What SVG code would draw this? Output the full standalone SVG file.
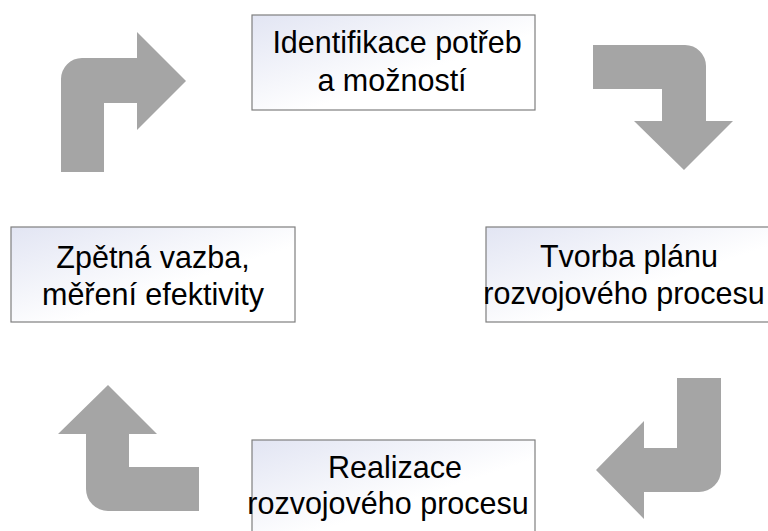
<svg xmlns="http://www.w3.org/2000/svg" width="768" height="531" viewBox="0 0 768 531">
<defs>
<linearGradient id="boxfill" x1="0" y1="0" x2="1" y2="1">
<stop offset="0" stop-color="#E2E5F3"/>
<stop offset="0.6" stop-color="#FFFFFF"/>
<stop offset="1" stop-color="#FFFFFF"/>
</linearGradient>
<style>
.box{fill:url(#boxfill);stroke:#7F7F7F;stroke-width:1.2}
.lbl{font-family:"Liberation Sans",Arial,sans-serif;font-size:30.5px;fill:#000;text-anchor:middle}
.arr{fill:#A5A5A5}
</style>
</defs>
<rect width="768" height="531" fill="#FFFFFF"/>
<g id="connectors">
<path class="arr" d="M61,172 L61,79 A21,21 0 0 1 82,58 L137,58 L137,32 L186,81 L137,130 L137,103 L104,103 L104,172 Z"/>
<path class="arr" d="M593,45 L685,45 A21,21 0 0 1 706,66 L706,121 L733,121 L684,170 L634,121 L662,121 L662,89 L593,89 Z"/>
<path class="arr" d="M677,378 L721,378 L721,470 A22,22 0 0 1 699,492 L644,492 L644,519 L596,470 L644,421 L644,448 L677,448 Z"/>
<path class="arr" d="M108,385 L157,434 L129,434 L129,467 L199,467 L199,511 L108,511 A22,22 0 0 1 86,489 L86,434 L58,434 Z"/>
</g>
<g id="node-identifikace">
<rect class="box" x="252" y="15" width="283" height="95"/>
<text class="lbl" x="397" y="53">Identifikace potřeb</text>
<text class="lbl" x="392" y="91">a možností</text>
</g>
<g id="node-tvorba">
<rect class="box" x="486" y="227" width="284" height="95"/>
<text class="lbl" x="629" y="267">Tvorba plánu</text>
<text class="lbl" x="624" y="304">rozvojového procesu</text>
</g>
<g id="node-realizace">
<rect class="box" x="252" y="440" width="283" height="95"/>
<text class="lbl" x="395" y="478">Realizace</text>
<text class="lbl" x="388" y="514">rozvojového procesu</text>
</g>
<g id="node-zpetna">
<rect class="box" x="11" y="227" width="284" height="95"/>
<text class="lbl" x="153" y="268">Zpětná vazba,</text>
<text class="lbl" x="153" y="305">měření efektivity</text>
</g>
</svg>
